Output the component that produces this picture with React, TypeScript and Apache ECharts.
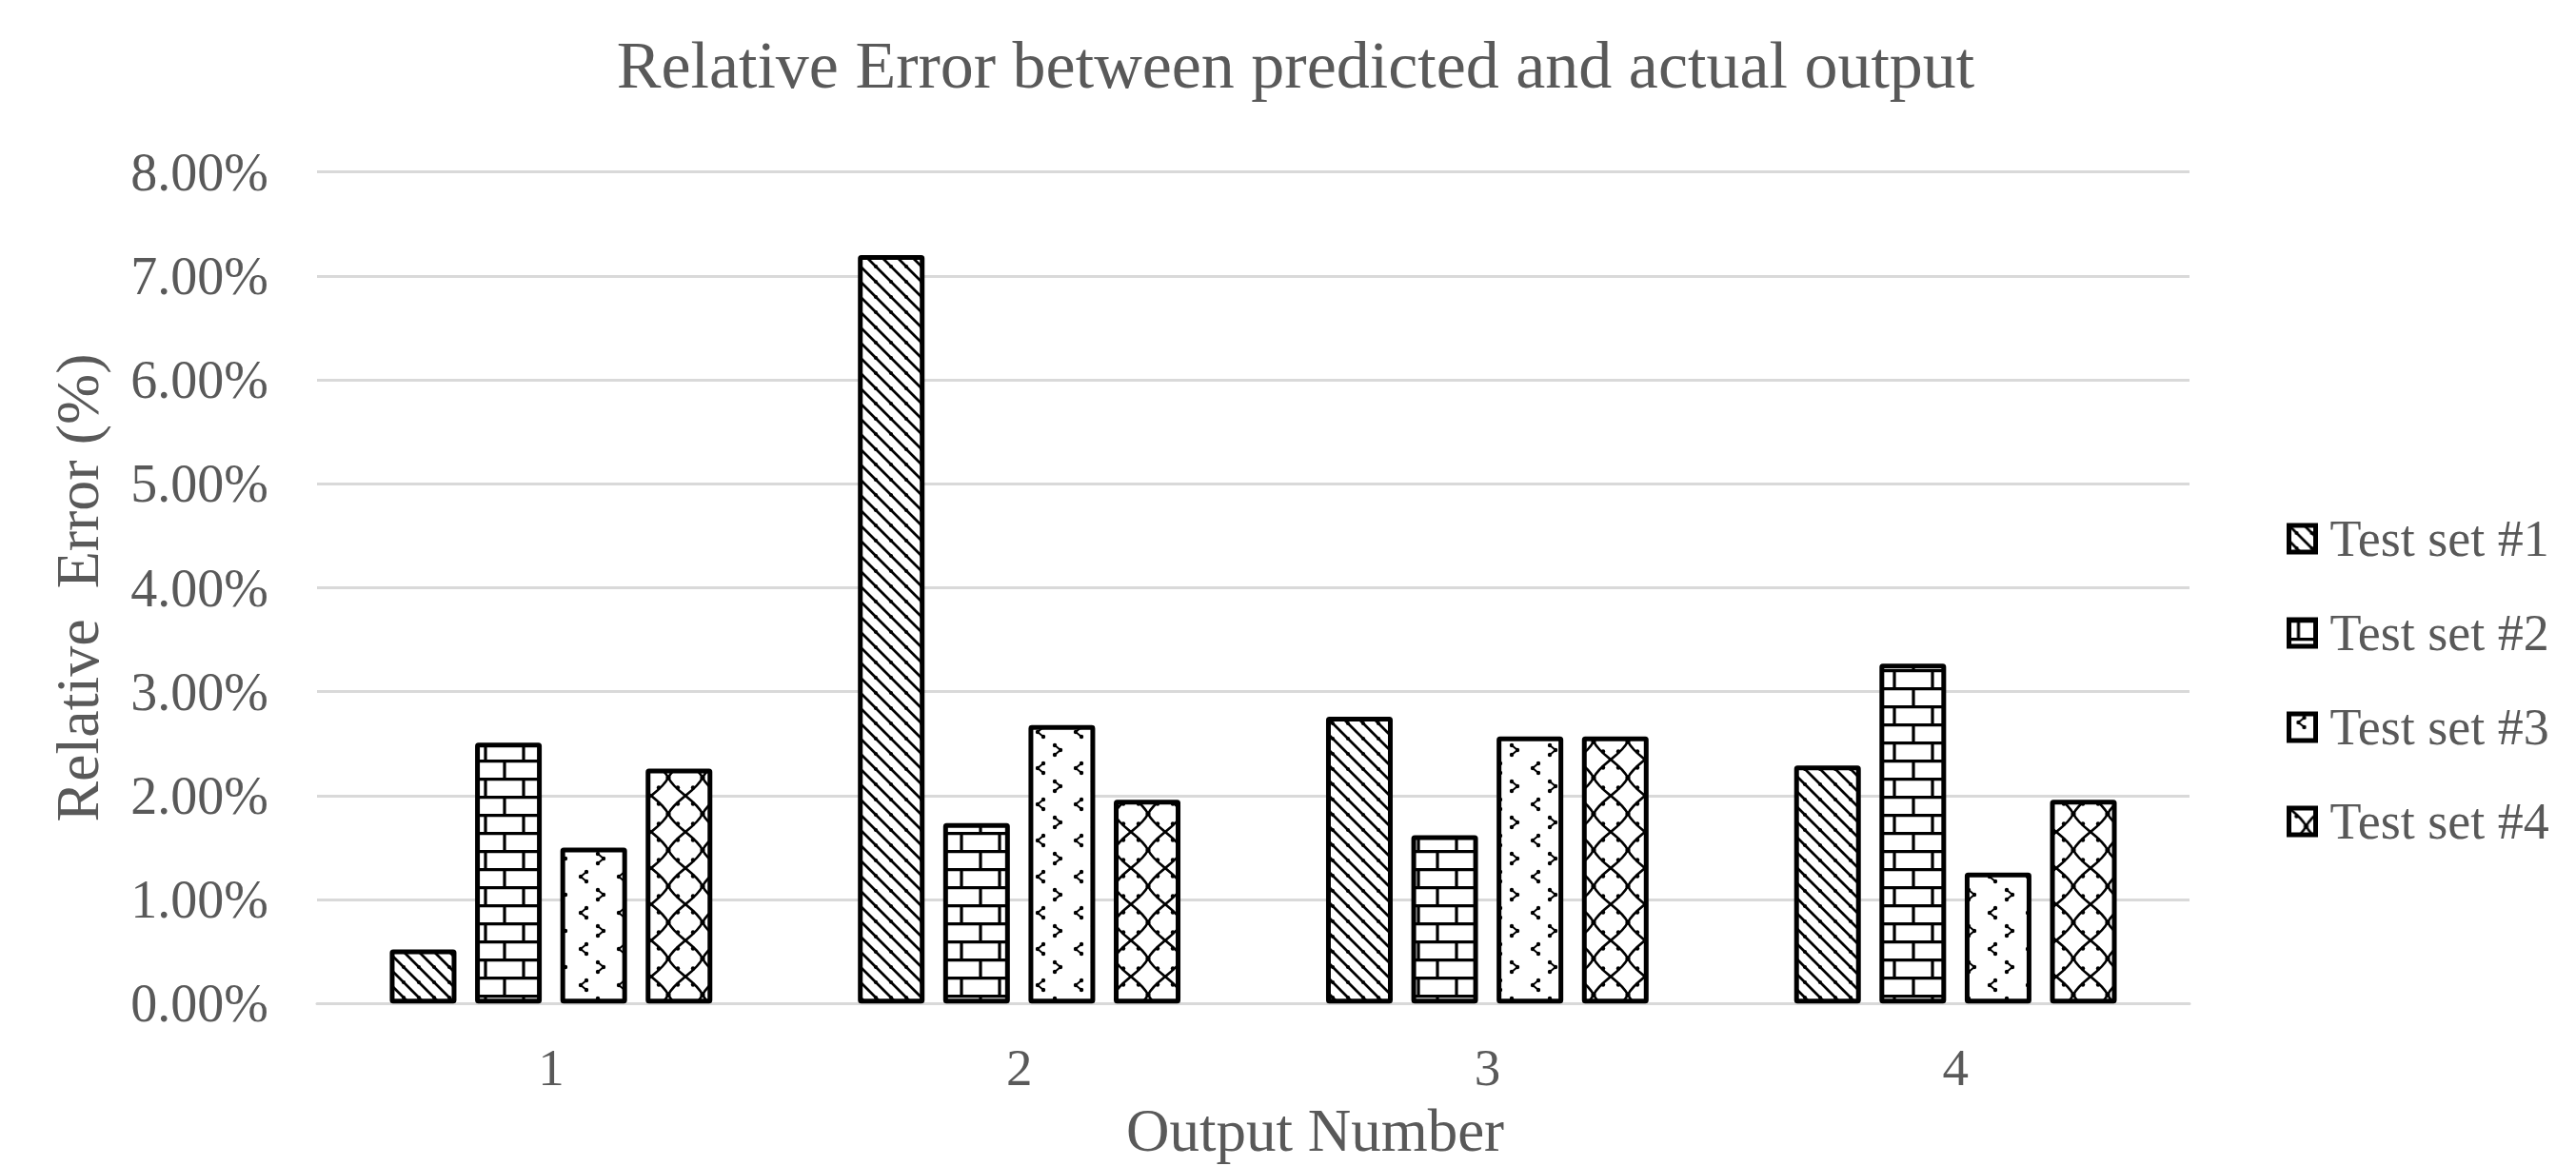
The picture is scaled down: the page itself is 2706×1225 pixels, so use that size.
import React, { useEffect, useRef } from "react";
import * as echarts from "echarts";

const categories = ["1", "2", "3", "4"];
const seriesNames = ["Test set #1", "Test set #2", "Test set #3", "Test set #4"];
const testSet1 = [0.52, 7.2, 2.76, 2.29];
const testSet2 = [2.51, 1.735, 1.62, 3.27];
const testSet3 = [1.5, 2.68, 2.57, 1.26];
const testSet4 = [2.26, 1.96, 2.57, 1.96];
const yTicks = { min: 0, max: 8, interval: 1 };

const FONT = "'Liberation Serif', 'Times New Roman', serif";
const GREY = "#595959";

function svgPattern(w: number, h: number, body: string) {
  const svg = `<svg xmlns='http://www.w3.org/2000/svg' width='${w}' height='${h}'><rect width='${w}' height='${h}' fill='white'/>${body}</svg>`;
  return {
    image: "data:image/svg+xml;charset=utf-8," + encodeURIComponent(svg),
    repeat: "repeat",
    imageWidth: w,
    imageHeight: h,
  };
}

const patterns = [
  // wide downward diagonal
  svgPattern(
    16,
    16,
    `<path d='M-2 -2 L18 18 M14 -2 L18 2 M-2 14 L2 18' stroke='black' stroke-width='2.8'/><circle cx='8' cy='8' r='2.1' fill='black'/>`
  ),
  // bricks
  svgPattern(
    40,
    38,
    `<path d='M0 1.6 H40 M0 20.6 H40 M10 1.6 V20.6 M30 20.6 V38' stroke='black' stroke-width='3.2'/>`
  ),
  // confetti chevrons
  svgPattern(
    40,
    38,
    `<polyline points='16,4 10,9 16,14' fill='none' stroke='black' stroke-width='2'/><circle cx='16' cy='4' r='2.2'/><circle cx='10' cy='9' r='2.2'/><circle cx='16' cy='14' r='2.2'/>` +
      `<polyline points='28,23 34,28 28,33' fill='none' stroke='black' stroke-width='2'/><circle cx='28' cy='23' r='2.2'/><circle cx='34' cy='28' r='2.2'/><circle cx='28' cy='33' r='2.2'/>`
  ),
  // trellis
  svgPattern(
    36,
    38,
    `<path d='M0 0 Q14 11 18 19 Q22 27 36 38 M36 0 Q22 11 18 19 Q14 27 0 38' fill='none' stroke='black' stroke-width='2.6'/>` +
      `<circle cx='8' cy='8.5' r='2.2'/><circle cx='28' cy='8.5' r='2.2'/><circle cx='8' cy='29.5' r='2.2'/><circle cx='28' cy='29.5' r='2.2'/>` +
      `<circle cx='18' cy='19' r='2.6'/>`
  ),
];

export default function App() {
  const ref = useRef<HTMLDivElement>(null);
  useEffect(() => {
    if (!ref.current) return;
    const chart = echarts.init(ref.current, null, { renderer: "svg" });
    const data = [testSet1, testSet2, testSet3, testSet4];
    chart.setOption({
      animation: false,
      backgroundColor: "#ffffff",
      title: {
        text: "Relative Error between predicted and actual output",
        left: 1356,
        top: 28,
        textAlign: "center",
        textStyle: { fontFamily: FONT, fontSize: 70, fontWeight: "normal", color: GREY },
      },
      legend: {
        orient: "vertical",
        left: 2402,
        top: 539,
        padding: 0,
        itemWidth: 28,
        itemHeight: 28,
        itemGap: 45,
        icon: "rect",
        itemStyle: { borderColor: "#000", borderWidth: 5 },
        textStyle: { fontFamily: FONT, fontSize: 54, color: GREY, padding: [0, 0, 0, 10] },
        data: seriesNames,
      },
      grid: { left: 333, right: 406, top: 180.7, bottom: 170.7, containLabel: false },
      xAxis: {
        type: "category",
        data: categories,
        name: "Output Number",
        nameLocation: "middle",
        nameGap: 102,
        nameTextStyle: { fontFamily: FONT, fontSize: 63, color: GREY, padding: [0, 0, 0, 130] },
        axisTick: { show: false },
        axisLine: { lineStyle: { color: "#d9d9d9", width: 3 } },
        axisLabel: { fontFamily: FONT, fontSize: 55, color: GREY, margin: 40 },
      },
      yAxis: {
        type: "value",
        min: yTicks.min,
        max: yTicks.max,
        interval: yTicks.interval,
        name: "Relative  Error (%)",
        nameLocation: "middle",
        nameRotate: 90,
        nameGap: 220,
        nameTextStyle: { fontFamily: FONT, fontSize: 64, color: GREY },
        axisLine: { show: false },
        axisTick: { show: false },
        splitLine: { lineStyle: { color: "#d9d9d9", width: 3 } },
        axisLabel: {
          fontFamily: FONT,
          fontSize: 56,
          color: GREY,
          margin: 51,
          formatter: (v: number) => v.toFixed(2) + "%",
        },
      },
      series: seriesNames.map((name, i) => ({
        name,
        type: "bar",
        data: data[i],
        barWidth: 70,
        barGap: "28%",
        itemStyle: {
          color: patterns[i],
          borderColor: "#000",
          borderWidth: 5,
          borderRadius: 1,
        },
        emphasis: { disabled: true },
      })),
    });
    return () => chart.dispose();
  }, []);
  return (
    <div
      ref={ref}
      style={{ position: "fixed", left: 0, top: 0, width: 2706, height: 1225, background: "#fff" }}
    />
  );
}
